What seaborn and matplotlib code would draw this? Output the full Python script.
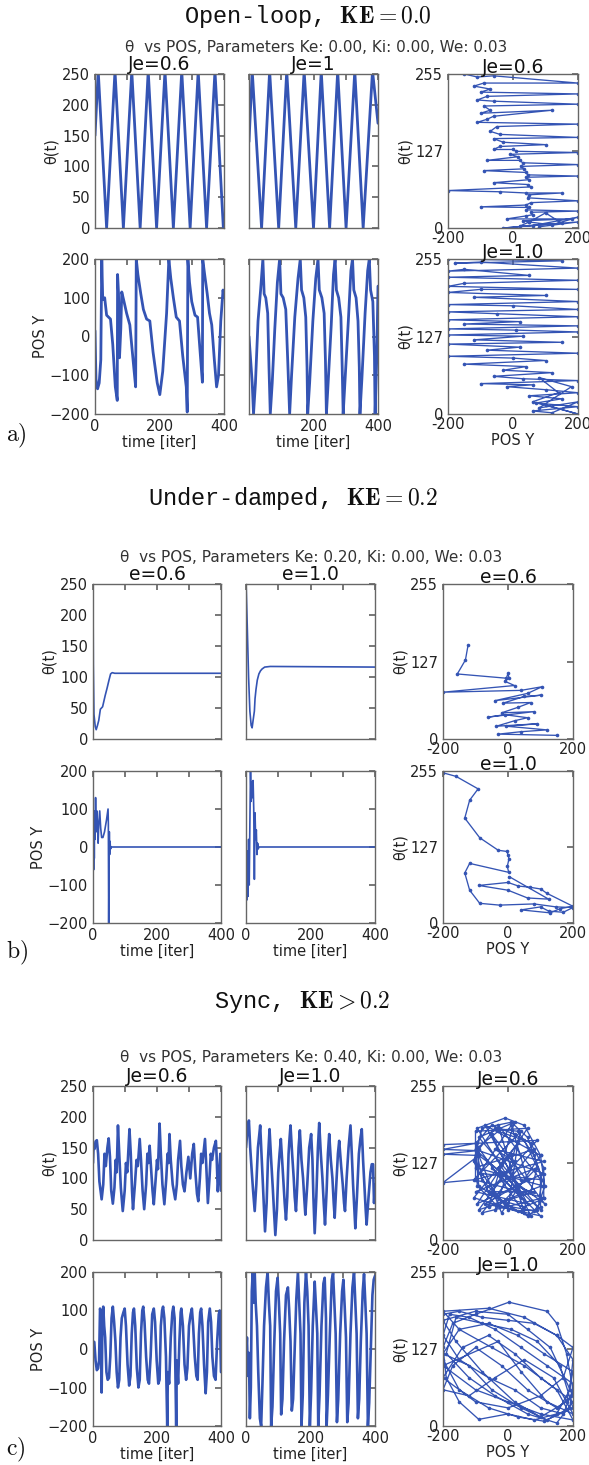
import matplotlib
matplotlib.use("Agg")
import matplotlib.pyplot as plt
import pandas as pd
import seaborn as sns

# ---------------- data: (time, value) / (POS Y, theta) ----------------
# a) open loop, Ke = 0.0
a06_theta = [(0, 150), (10, 255), (36, 0), (62, 255), (88, 0), (114, 255), (140, 0), (165, 255),
             (191, 0), (217, 255), (243, 0), (269, 255), (295, 0), (320, 255), (346, 0), (372, 255),
             (398, 0), (400, 15)]
a10_theta = [(0, 140), (10, 255), (39, 0), (64, 255), (92, 0), (117, 255), (145, 0), (171, 255),
             (200, 0), (224, 255), (250, 0), (275, 255), (301, 0), (328, 255), (354, 0), (383, 255),
             (400, 170)]
a06_pos = [(0, 15), (3, -110), (8, -135), (13, -120), (18, -60), (21, 200), (24, 95), (30, 100),
           (36, 55), (48, 45), (55, -20), (63, -130), (69, -165), (70, 160), (73, 110), (76, -55),
           (80, 20), (83, 115), (90, 90), (98, 60), (108, 30), (118, -60), (126, -130), (128, 200),
           (133, 160), (142, 110), (150, 70), (160, 45), (170, 40), (180, -40), (193, -120),
           (201, -150), (210, -90), (222, 60), (229, 200), (235, 150), (243, 100), (252, 50),
           (262, 40), (272, -50), (283, -130), (286, -195), (288, 200), (293, 140), (300, 90),
           (310, 55), (318, 50), (326, -40), (333, -118), (334, 200), (340, 160), (348, 110),
           (355, 60), (362, 30), (370, -60), (377, -130), (383, -100), (390, 40), (397, 120), (400, 100)]
a10_pos = [(0, 0), (5, -60), (10, -120), (14, -200), (20, -120), (28, 40), (36, 120), (43, 200),
           (47, 110), (52, 100), (58, 60), (62, -80), (66, -200), (72, -120), (80, 20), (88, 140),
           (95, 200), (99, 110), (106, 100), (114, 70), (120, -60), (126, -200), (132, -100),
           (142, 50), (152, 150), (159, 200), (163, 120), (170, 100), (176, 50), (180, -80),
           (182, -200), (188, -120), (198, 40), (207, 150), (214, 200), (218, 120), (226, 100),
           (233, 60), (237, -60), (240, -200), (246, -110), (255, 30), (262, 160), (267, 200),
           (271, 120), (278, 100), (285, 50), (289, -80), (292, -200), (298, -110), (308, 40),
           (316, 170), (321, 200), (325, 120), (332, 100), (338, 40), (342, -80), (344, -200),
           (350, -110), (360, 60), (368, 170), (373, 200), (377, 120), (384, 90), (389, -50),
           (391, -200), (396, -60), (400, 130)]
a06_phase = [(-150, 255), (-110, 250), (-60, 252), (200, 240), (-90, 240), (-120, 235), (-70, 230),
             (-100, 225), (200, 222), (-80, 218), (-110, 212), (-60, 210), (200, 205), (-90, 202),
             (-70, 195), (-100, 190), (120, 195), (-60, 185), (-80, 180), (-110, 175), (200, 172),
             (-50, 168), (-70, 160), (-40, 155), (200, 150), (-60, 148), (-30, 142), (100, 138),
             (-40, 135), (-60, 130), (0, 130), (10, 127), (200, 125), (-10, 122), (15, 118),
             (-80, 112), (20, 112), (30, 108), (200, 105), (25, 102), (35, 98), (-90, 95), (40, 92),
             (45, 88), (200, 86), (40, 84), (50, 80), (-60, 75), (45, 72), (55, 68), (-200, 62),
             (-40, 60), (40, 58), (150, 58), (50, 55), (45, 50), (200, 45), (55, 42), (40, 38),
             (-100, 35), (50, 34), (40, 30), (200, 28), (55, 26), (60, 22), (40, 20), (-20, 15),
             (180, 15), (30, 12), (50, 10), (120, 5), (200, 18), (60, 4), (-30, 0), (150, 8),
             (100, 25), (50, 10), (20, 3), (200, 10), (80, 2)]
a10_phase = [(-200, 255), (150, 252), (-180, 248), (-100, 250), (200, 240), (-200, 235), (-150, 238),
             (50, 228), (-200, 225), (200, 220), (-150, 215), (-200, 210), (200, 205), (-100, 205),
             (-200, 200), (100, 195), (-120, 192), (200, 185), (-200, 180), (0, 178), (200, 172),
             (-200, 168), (-50, 165), (200, 160), (-200, 155), (20, 152), (-150, 148), (200, 145),
             (-200, 140), (10, 138), (200, 135), (-200, 130), (30, 128), (-120, 122), (150, 118),
             (-200, 115), (20, 110), (-80, 105), (200, 100), (-200, 95), (0, 92), (100, 88),
             (-150, 82), (40, 78), (-30, 72), (120, 68), (-60, 62), (30, 58), (200, 55), (-100, 50),
             (60, 48), (-20, 45), (100, 40), (200, 35), (50, 30), (150, 25), (70, 18), (200, 12),
             (60, 5), (120, 2), (200, 20), (80, 10), (180, 45), (80, 60), (140, 35), (60, 20),
             (200, 0), (100, 15)]

# b) under-damped, Ke = 0.2
b06_theta = [(0, 250), (1, 120), (3, 40), (7, 20), (10, 15), (14, 22), (18, 30), (23, 48), (30, 52),
             (38, 70), (44, 82), (50, 95), (55, 105), (60, 107), (68, 106), (400, 106)]
b10_theta = [(0, 255), (4, 180), (8, 100), (12, 45), (16, 22), (19, 18), (22, 30), (26, 45), (28, 65),
             (31, 80), (35, 95), (40, 105), (45, 110), (50, 113), (58, 116), (75, 117), (400, 116)]
b06_pos = [(0, -160), (1, 90), (2, -60), (3, 95), (4, -30), (5, 85), (6, 20), (8, 130), (10, 40),
           (12, 95), (14, 60), (16, 10), (18, 60), (21, 95), (24, 50), (27, 25), (31, 25), (36, 40),
           (42, 70), (47, 100), (48, 60), (49, -200), (50, -60), (51, 40), (52, -20), (53, 15),
           (55, -5), (57, 0), (400, 0)]
b10_pos = [(0, -20), (2, -140), (4, -10), (6, -130), (8, 20), (10, -100), (12, 60), (14, 200),
           (16, 120), (18, 170), (20, 130), (22, 175), (24, 100), (26, -85), (28, 90), (30, 20),
           (32, 45), (34, -20), (36, 10), (38, -5), (40, 0), (400, 0)]
b06_phase = [(-123, 154), (-131, 130), (-156, 107), (-5, 100), (0, 108), (3, 100), (-10, 95),
             (20, 88), (-200, 77), (40, 80), (105, 86), (60, 75), (-41, 63), (100, 72), (50, 70),
             (-15, 59), (70, 60), (30, 52), (-20, 43), (80, 45), (-61, 36), (-10, 40), (60, 35),
             (20, 30), (-36, 21), (90, 25), (-5, 21), (120, 15), (40, 12), (-30, 8), (150, 6)]
b10_phase = [(-200, 252), (-160, 246), (-92, 225), (-118, 206), (-133, 176), (-87, 143), (-30, 122),
             (-3, 120), (0, 114), (3, 108), (-2, 95), (2, 85), (-118, 100), (-133, 84), (-118, 55),
             (-87, 33), (-26, 30), (80, 32), (148, 27), (200, 26), (170, 18), (125, 20), (100, 27),
             (40, 22), (130, 17), (160, 24), (200, 28), (119, 50), (101, 57), (67, 60), (32, 62),
             (0, 68), (-90, 63), (0, 55), (60, 42), (125, 40), (3, 78)]

# c) sync, Ke = 0.4
c06_theta = [(0, 125), (2, 155), (5, 148), (8, 160), (12, 162), (16, 140), (20, 95), (27, 66),
             (32, 90), (36, 140), (40, 120), (45, 150), (49, 165), (53, 135), (57, 80), (62, 59),
             (67, 85), (71, 130), (74, 110), (78, 186), (82, 140), (87, 85), (93, 47), (99, 80),
             (103, 125), (107, 110), (114, 180), (118, 140), (122, 80), (125, 50), (131, 90),
             (136, 130), (140, 120), (146, 164), (150, 130), (155, 80), (160, 50), (166, 90),
             (170, 140), (173, 125), (177, 153), (181, 120), (186, 80), (190, 58), (196, 100),
             (200, 130), (203, 115), (208, 189), (212, 140), (217, 90), (223, 58), (229, 100),
             (233, 140), (236, 125), (239, 172), (243, 130), (249, 90), (257, 66), (262, 90),
             (266, 130), (272, 161), (276, 120), (281, 90), (286, 79), (292, 110), (298, 135),
             (304, 100), (310, 140), (315, 156), (320, 110), (325, 75), (329, 63), (334, 100),
             (338, 140), (342, 125), (350, 164), (354, 120), (359, 60), (364, 100), (368, 140),
             (372, 130), (378, 150), (384, 161), (386, 140), (390, 79), (394, 110), (398, 140),
             (400, 80)]
c10_theta = [(0, 150), (4, 175), (9, 194), (13, 150), (18, 110), (22, 80), (27, 47), (32, 90),
             (37, 150), (41, 170), (44, 186), (48, 140), (52, 95), (55, 60), (59, 14), (64, 60),
             (68, 130), (71, 160), (73, 180), (78, 130), (83, 85), (87, 45), (91, 8), (96, 50),
             (100, 110), (104, 140), (108, 164), (112, 130), (116, 95), (120, 60), (124, 33),
             (128, 70), (132, 140), (135, 165), (138, 186), (143, 140), (148, 100), (151, 70),
             (155, 47), (159, 90), (163, 150), (167, 178), (172, 130), (177, 100), (181, 65),
             (184, 41), (190, 90), (196, 150), (202, 172), (206, 130), (209, 70), (213, 11),
             (218, 70), (223, 150), (227, 190), (232, 140), (237, 100), (241, 60), (245, 25),
             (250, 80), (254, 140), (258, 172), (263, 130), (268, 100), (272, 60), (275, 36),
             (280, 90), (285, 140), (289, 161), (295, 120), (300, 90), (304, 60), (307, 47),
             (312, 100), (318, 150), (324, 186), (328, 140), (332, 90), (336, 50), (339, 19),
             (344, 70), (350, 140), (355, 165), (359, 180), (363, 130), (367, 90), (371, 50),
             (374, 25), (380, 70), (386, 110), (390, 123), (394, 123), (397, 60), (400, 90)]
c06_pos = [(0, 20), (4, 18), (8, -30), (12, -55), (16, -50), (19, -30), (22, 105), (25, 90),
           (27, -113), (29, 40), (32, 110), (35, 60), (38, 30), (42, -60), (46, -80), (50, -75),
           (54, -20), (58, 80), (62, 110), (66, 70), (70, 20), (74, -60), (78, -100), (82, -80),
           (86, 30), (90, 80), (95, 95), (99, 105), (103, 60), (108, -40), (113, -95), (117, -70),
           (121, 40), (125, 95), (128, 105), (132, 60), (137, -50), (142, -100), (146, -80),
           (150, 40), (154, 100), (157, 110), (161, 70), (166, -20), (171, -80), (175, -90),
           (180, -20), (185, 90), (190, 105), (194, 70), (199, -30), (204, -90), (208, -80),
           (212, 60), (216, 100), (219, 110), (223, 80), (228, -20), (232, -200), (234, -60),
           (238, -90), (243, 30), (248, 95), (251, 110), (255, 80), (260, -200), (262, -30),
           (266, -90), (270, 20), (274, 95), (276, 105), (281, 60), (286, -40), (291, -80),
           (295, -50), (300, 60), (305, 90), (309, 105), (313, 60), (318, -20), (323, -70),
           (327, -80), (331, 40), (335, 95), (338, 105), (342, 60), (347, -40), (352, -115),
           (356, -60), (360, 70), (365, 105), (369, 70), (373, -20), (378, -70), (383, -80),
           (388, 20), (393, 90), (396, 100), (400, -60)]
c10_pos = [(0, -20), (3, 30), (6, -70), (9, -10), (12, -180), (15, -100), (18, 150), (21, 200),
           (24, 120), (27, 200), (30, 120), (34, 60), (38, -60), (43, -180), (47, -200), (51, -90),
           (56, 60), (62, 160), (67, 200), (71, 120), (75, 60), (78, -200), (82, -150), (87, 0),
           (93, 150), (98, 185), (102, 120), (106, 40), (109, -170), (113, -130), (118, 20),
           (124, 140), (130, 160), (134, 100), (138, 20), (142, -160), (146, -130), (151, 0),
           (156, 130), (161, 200), (165, 120), (169, 40), (172, -200), (176, -120), (181, 120),
           (186, 200), (190, 150), (194, 60), (198, -200), (202, -110), (207, 60), (213, 175),
           (217, 110), (221, 40), (224, -200), (228, -120), (234, 60), (240, 170), (244, 185),
           (248, 80), (250, -200), (254, -120), (260, 40), (266, 180), (270, 197), (274, 120),
           (278, 40), (282, -190), (286, -130), (292, 40), (298, 150), (302, 180), (306, 110),
           (310, 30), (314, -190), (318, -140), (324, 40), (330, 160), (335, 200), (339, 120),
           (343, 40), (347, -180), (351, -130), (356, 20), (362, 150), (366, 195), (370, 120),
           (374, 40), (378, -200), (382, -140), (387, 0), (392, 140), (396, 180), (400, 190)]
c06_phase = [(-200, 158), (-100, 160), (-200, 150), (-95, 148), (-200, 142), (-90, 140), (-200, 95),
             (-100, 100), (-100, 180), (60, 185), (-95, 60), (110, 110), (-100, 150), (100, 50),
             (-90, 170), (20, 195), (-60, 55), (105, 90), (-100, 120), (80, 150), (-80, 45),
             (110, 70), (-105, 100), (40, 180), (-40, 50), (90, 120), (-100, 80), (60, 60),
             (-70, 190), (100, 140), (-20, 45), (-90, 140), (113, 60), (-50, 175), (70, 40),
             (-105, 70), (30, 160), (0, 50), (-80, 110), (100, 100), (-30, 190), (50, 45),
             (-100, 160), (90, 165), (-60, 80), (80, 80), (-90, 50), (20, 130), (-40, 150),
             (110, 130), (-100, 100), (10, 190), (60, 100), (-70, 60), (100, 40), (-50, 120),
             (40, 70), (-95, 185), (-9, 202), (50, 190), (100, 140), (113, 90), (90, 50), (30, 48),
             (-40, 60), (-95, 90), (-90, 150), (-40, 185), (30, 180), (80, 140), (105, 100),
             (95, 65), (50, 55), (-20, 65), (-80, 100), (-100, 160), (-50, 190), (20, 175),
             (70, 160), (110, 120), (110, 70), (80, 48), (10, 55), (-60, 80), (-105, 130),
             (-80, 185), (10, 195), (60, 170), (100, 110), (100, 55), (60, 40), (-10, 60),
             (-90, 90), (-100, 150), (-30, 180), (50, 165), (90, 120), (70, 80), (20, 90),
             (-30, 120), (10, 140), (40, 100)]
c10_phase = [(-200, 185), (-150, 190), (-80, 180), (0, 175), (80, 170), (150, 150), (200, 110),
             (190, 60), (150, 20), (80, 10), (0, 20), (-90, 11), (-150, 40), (-190, 80), (-200, 130),
             (-170, 170), (-100, 185), (3, 205), (120, 190), (150, 170), (180, 120), (200, 60),
             (170, 20), (100, 30), (20, 60), (-60, 80), (-150, 110), (-200, 150), (-180, 185),
             (-120, 180), (-40, 160), (40, 130), (120, 100), (200, 70), (190, 30), (120, 10),
             (40, 30), (-50, 60), (-120, 100), (-200, 120), (-150, 160), (-60, 170), (30, 150),
             (110, 120), (200, 90), (180, 40), (100, 15), (20, 40), (-80, 90), (-160, 140),
             (-200, 175), (-100, 190), (0, 185), (60, 160), (130, 130), (200, 50), (150, 30),
             (60, 60), (-20, 100), (-100, 130), (-170, 100), (-200, 60), (-120, 50), (-40, 80),
             (50, 110), (140, 80), (200, 20), (120, 40), (40, 90), (-30, 140), (-200, 100),
             (-100, 60), (0, 40), (100, 20), (200, 10), (150, 60), (50, 100), (-50, 130),
             (-150, 160), (-200, 190), (-60, 195), (50, 180), (150, 150), (200, 130), (170, 80),
             (100, 50), (0, 30), (-100, 40), (-200, 80), (-140, 130), (-60, 150), (20, 120),
             (100, 80), (200, 40), (150, 5), (60, 20), (-40, 50), (-120, 80), (-190, 120),
             (-160, 180), (-80, 170), (10, 160), (90, 140), (160, 100), (200, 30), (110, 8),
             (30, 15), (-60, 30), (-150, 60), (-200, 110)]

# ---------------- styling ----------------
sns.set_theme(style="white")
plt.rcParams.update({
    "font.family": ["DejaVu Sans"],
    "mathtext.fontset": "cm",
    "axes.edgecolor": "#666666",
    "axes.linewidth": 1.0,
    "xtick.direction": "in",
    "ytick.direction": "in",
    "xtick.top": True,
    "ytick.right": True,
    "xtick.major.size": 4,
    "ytick.major.size": 4,
    "xtick.color": "#666666",
    "ytick.color": "#666666",
    "xtick.labelcolor": "#222222",
    "ytick.labelcolor": "#222222",
    "xtick.labelsize": 10.5,
    "ytick.labelsize": 10.5,
    "axes.labelcolor": "#222222",
    "axes.labelsize": 10.5,
})
BLUE = "#3454b4"
W, H = 589, 1465
fig = plt.figure(figsize=(W / 100, H / 100), dpi=100)


def box(l, t, r, b):
    return fig.add_axes([l / W, 1 - b / H, (r - l) / W, (b - t) / H])


def draw(ax, pts, lw, phase=False):
    df = pd.DataFrame(pts, columns=["x", "y"])
    kw = dict(marker="o", markersize=2.6, markeredgewidth=0) if phase else {}
    sns.lineplot(data=df, x="x", y="y", ax=ax, sort=False, estimator=None,
                 color=BLUE, lw=lw, **kw)
    ax.set_xlabel("")
    ax.set_ylabel("")


sections = [
    dict(title="Open-loop, $\\mathbf{KE} = 0.0$", tx=308, ty=17,
         sub="θ  vs POS, Parameters Ke: 0.00, Ki: 0.00, We: 0.03", sx=316, sy=47,
         cols=[(95, 224), (249, 378), (448, 578)], rows=[(74, 228), (259, 414)],
         names=["Je=0.6", "Je=1", "Je=0.6", "Je=1.0"], tag="a)", tag_y=436, lw=2.0,
         theta=[a06_theta, a10_theta], pos=[a06_pos, a10_pos], phase=[a06_phase, a10_phase],
         mid0=False),
    dict(title="Under-damped, $\\mathbf{KE} = 0.2$", tx=293, ty=499,
         sub="θ  vs POS, Parameters Ke: 0.20, Ki: 0.00, We: 0.03", sx=311, sy=557,
         cols=[(93, 221), (246, 375), (443, 573)], rows=[(584, 739), (771, 923)],
         names=["e=0.6", "e=1.0", "e=0.6", "e=1.0"], tag="b)", tag_y=953, lw=1.2,
         theta=[b06_theta, b10_theta], pos=[b06_pos, b10_pos], phase=[b06_phase, b10_phase],
         mid0=True),
    dict(title="Sync, $\\mathbf{KE} > 0.2$", tx=302, ty=1002,
         sub="θ  vs POS, Parameters Ke: 0.40, Ki: 0.00, We: 0.03", sx=311, sy=1058,
         cols=[(93, 221), (246, 375), (443, 573)], rows=[(1086, 1240), (1272, 1426)],
         names=["Je=0.6", "Je=1.0", "Je=0.6", "Je=1.0"], tag="c)", tag_y=1450, lw=1.9,
         theta=[c06_theta, c10_theta], pos=[c06_pos, c10_pos], phase=[c06_phase, c10_phase],
         mid0=True),
]

for s in sections:
    fig.text(s["tx"] / W, 1 - s["ty"] / H, s["title"], ha="center", va="center",
             fontsize=17, family="Liberation Mono", color="#111111")
    fig.text(s["sx"] / W, 1 - s["sy"] / H, s["sub"], ha="center", va="center",
             fontsize=11, color="#333333")
    fig.text(6 / W, 1 - s["tag_y"] / H, r"$\mathrm{" + s["tag"] + "}$", ha="left",
             va="center", fontsize=17, color="#111111")
    (t0, t1), (b0, b1) = s["rows"]
    for j in range(2):
        l, r = s["cols"][j]
        # theta vs time
        ax = box(l, t0, r, t1)
        draw(ax, s["theta"][j], s["lw"])
        ax.set_xlim(0, 400)
        ax.set_ylim(0, 250)
        ax.set_xticks([0, 100, 200, 300, 400])
        ax.set_xticklabels([])
        ax.set_yticks([0, 50, 100, 150, 200, 250])
        if j == 0:
            ax.set_ylabel("θ(t)", labelpad=2)
        else:
            ax.set_yticklabels([])
        ax.set_title(s["names"][j], fontsize=13.5, pad=1, color="#111111")
        # POS vs time
        ax = box(l, b0, r, b1)
        draw(ax, s["pos"][j], s["lw"])
        ax.set_xlim(0, 400)
        ax.set_ylim(-200, 200)
        ax.set_xticks([0, 100, 200, 300, 400])
        first = "0" if (j == 0 or s["mid0"]) else ""
        ax.set_xticklabels([first, "", "200", "", "400"])
        ax.set_yticks([-200, -100, 0, 100, 200])
        ax.set_xlabel("time [iter]", labelpad=1)
        if j == 0:
            ax.set_ylabel("POS Y", labelpad=1)
        else:
            ax.set_yticklabels([])
    # phase plots
    l, r = s["cols"][2]
    for k, (tt, bb) in enumerate(s["rows"]):
        ax = box(l, tt, r, bb)
        draw(ax, s["phase"][k], 0.95, phase=True)
        ax.set_xlim(-200, 200)
        ax.set_ylim(0, 255)
        ax.set_xticks([-200, 0, 200])
        ax.set_xticklabels(["-200", "0", "200"])
        ax.set_yticks([0, 127, 255])
        ax.set_ylabel("θ(t)", labelpad=2)
        ax.set_title(s["names"][2 + k], fontsize=13.5, pad=1, color="#111111")
        if k == 1:
            ax.set_xlabel("POS Y", labelpad=1)
        ax.tick_params(axis="x", pad=2)

fig.savefig("out.png", dpi=100)
